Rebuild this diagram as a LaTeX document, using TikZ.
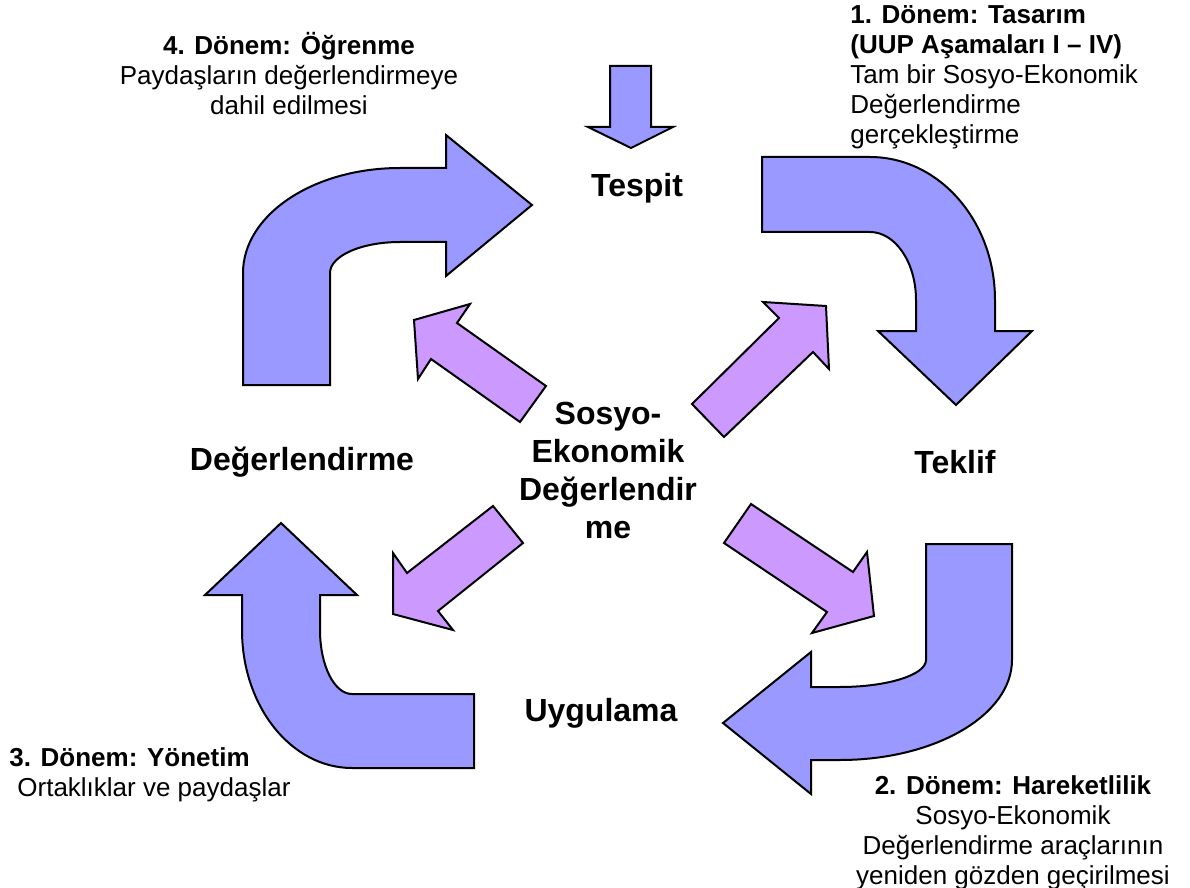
\documentclass[tikz,border=0pt]{standalone}
\usepackage{fontspec}
\setmainfont{Liberation Sans}
\definecolor{bluefill}{HTML}{9999FF}
\definecolor{purplefill}{HTML}{CC99FF}
\begin{document}
\begin{tikzpicture}[x=0.5pt,y=-0.5pt,
  bluearrow/.style={draw=black, line width=1pt, fill=bluefill, line join=miter},
  purplearrow/.style={draw=black, line width=1pt, fill=purplefill, line join=miter},
  big/.style={font=\fontsize{16}{19}\selectfont\bfseries, align=center, inner sep=0pt},
  note/.style={font=\fontsize{13}{15}\selectfont, inner sep=0pt}]
\useasboundingbox (0,0) rectangle (1190,888);
\clip (0,0) rectangle (1190,888);

% small down arrow at top
\draw[bluearrow] (610,66) -- (651,66) -- (651,127) -- (673,127) -- (631,148) -- (588,127) -- (610,127) -- cycle;

% upper-left bent arrow (4. Donem)
\draw[bluearrow] (243,385) -- (243,273)
  .. controls (243,215) and (313,168) .. (400,168)
  -- (446,168) -- (446,135) -- (532,205) -- (446,276) -- (446,242) -- (400,242)
  .. controls (361,242) and (330,256) .. (330,273)
  -- (330,385) -- cycle;

% upper-right bent arrow (1. Donem)
\draw[bluearrow] (762,157) -- (870,157)
  .. controls (939,157) and (995,221) .. (995,300)
  -- (995,331) -- (1032,331) -- (956,405) -- (878,331) -- (916,331) -- (916,300)
  .. controls (916,262) and (895,232) .. (870,232)
  -- (762,232) -- cycle;

% lower-right bent arrow (2. Donem)
\draw[bluearrow] (926,544) -- (1012,544) -- (1012,660)
  .. controls (1012,715) and (935,760) .. (840,760)
  -- (811,760) -- (811,794) -- (723,723) -- (811,652) -- (811,687) -- (840,687)
  .. controls (887,687) and (926,675) .. (926,660)
  -- cycle;

% lower-left bent arrow (3. Donem)
\draw[bluearrow] (281,523) -- (357,595) -- (320,595) -- (320,630)
  .. controls (320,665) and (334,694) .. (352,694)
  -- (474,694) -- (474,768) -- (352,768)
  .. controls (291,768) and (242,706) .. (242,630)
  -- (242,595) -- (205,595) -- cycle;

% purple arrows from the centre
\draw[purplearrow] (546,386) -- (457,323) -- (470,304) -- (414,320) -- (418,379) -- (431,359) -- (520,422) -- cycle;
\draw[purplearrow] (692,404) -- (779,318) -- (763,302) -- (826,306) -- (829,369) -- (813,352) -- (724,437) -- cycle;
\draw[purplearrow] (493,506) -- (407,573) -- (393,553) -- (393,614) -- (453,630) -- (438,611) -- (523,543) -- cycle;
\draw[purplearrow] (751,504) -- (853,572) -- (867,552) -- (874,616) -- (812,633) -- (827,612) -- (724,543) -- cycle;

% big labels
\node[big] (tespit) at (637,188) {Tespit};
\node[big] (teklif) at (955,462) {Teklif};
\node[big] (deger) at (302,462) {Değerlendirme};
\node[big] (uygulama) at (601,713) {Uygulama};
\node[big] (center) at (608,470) {Sosyo-\\Ekonomik\\Değerlendir\\me};

% period notes
\node[note, align=center] (d4) at (289,74) {\textbf{4. Dönem: Öğrenme}\\Paydaşların değerlendirmeye\\dahil edilmesi};
\node[note, align=left, anchor=west] (d1) at (850,77) {\textbf{1. Dönem: Tasarım}\\\textbf{(UUP Aşamaları I – IV)}\\Tam bir Sosyo-Ekonomik\\Değerlendirme\\gerçekleştirme};
\node[note, align=left, anchor=west] (d3) at (9,775) {\textbf{3. Dönem: Yönetim}\\\hspace*{4pt}Ortaklıklar ve paydaşlar};
\node[note, align=center] (d2) at (1013,833) {\textbf{2. Dönem: Hareketlilik}\\Sosyo-Ekonomik\\Değerlendirme araçlarının\\yeniden gözden geçirilmesi};
\end{tikzpicture}
\end{document}
